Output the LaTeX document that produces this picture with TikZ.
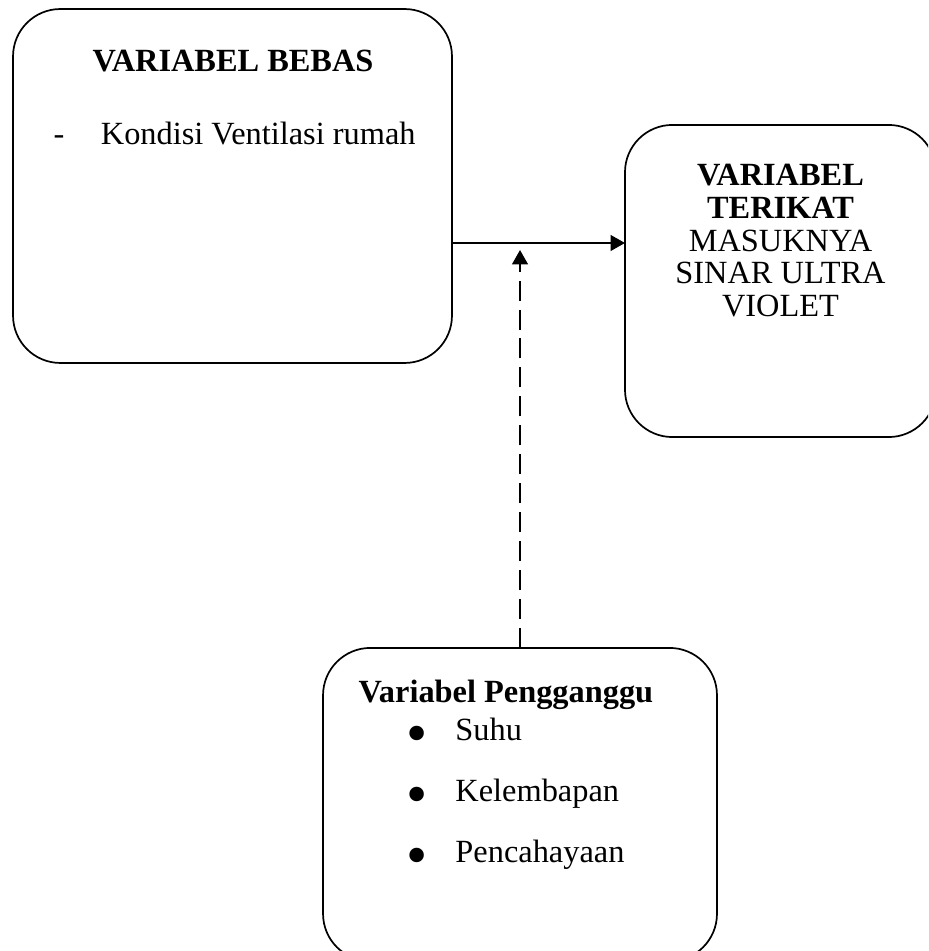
\documentclass[tikz,border=0pt]{standalone}
\usepackage{fontspec}
\setmainfont{Liberation Serif}
\usetikzlibrary{arrows.meta}

\tikzset{
  varbox/.style={draw, line width=0.65pt, rounded corners=18pt, inner sep=0pt, outer sep=0pt},
  txt/.style={inner sep=0pt, font=\fontsize{12.3}{12.4}\selectfont},
  tip/.style={-{Triangle[length=5.5pt,width=6pt]}, line width=0.8pt}
}
\newcommand{\titikbesar}{\makebox[18.6pt][l]{\raisebox{-5.2pt}[3pt][0pt]{\fontsize{23}{23}\selectfont\textbullet}}}

\begin{document}
\begin{tikzpicture}[x=0.38pt,y=-0.38pt]
\clip (0,0) rectangle (928,951);

%draw boxes
\node[varbox, minimum width=166.8pt, minimum height=134.5pt] (bebas) at (232.5,186) {};
\node[varbox, minimum width=118.2pt, minimum height=118.6pt] (terikat) at (780.5,281) {};
\node[varbox, minimum width=149.7pt, minimum height=119pt] (pengganggu) at (520,804.5) {};

%draw texts
\node[txt, anchor=base] (bebasjudul) at (233,72) {\textbf{VARIABEL BEBAS}};
\node[txt, anchor=base west] (kondisi) at (53,145) {-\hspace{13.9pt}Kondisi Ventilasi rumah};
\node[txt, anchor=north, align=center] (terikatisi) at (780.5,164)
  {\textbf{VARIABEL}\\ \textbf{TERIKAT}\\ MASUKNYA\\ SINAR ULTRA\\ VIOLET};
\node[txt, anchor=base west] (penggangujudul) at (358,702) {\textbf{Variabel Pengganggu}};
\foreach \isi [count=\i] in {Suhu,Kelembapan,Pencahayaan}
  \node[txt, anchor=base west] (item\i) at (406,{679+61*\i}) {\titikbesar\isi};

%draw arrows
\coordinate (titik) at (520,243);
\coordinate (ujung) at (520,250);
\draw[tip] (bebas.east |- titik) -- (terikat.west |- titik);
\draw[tip, dash pattern=on 7.6pt off 3.4pt] (pengganggu.north) -- (ujung);

\end{tikzpicture}
\end{document}
